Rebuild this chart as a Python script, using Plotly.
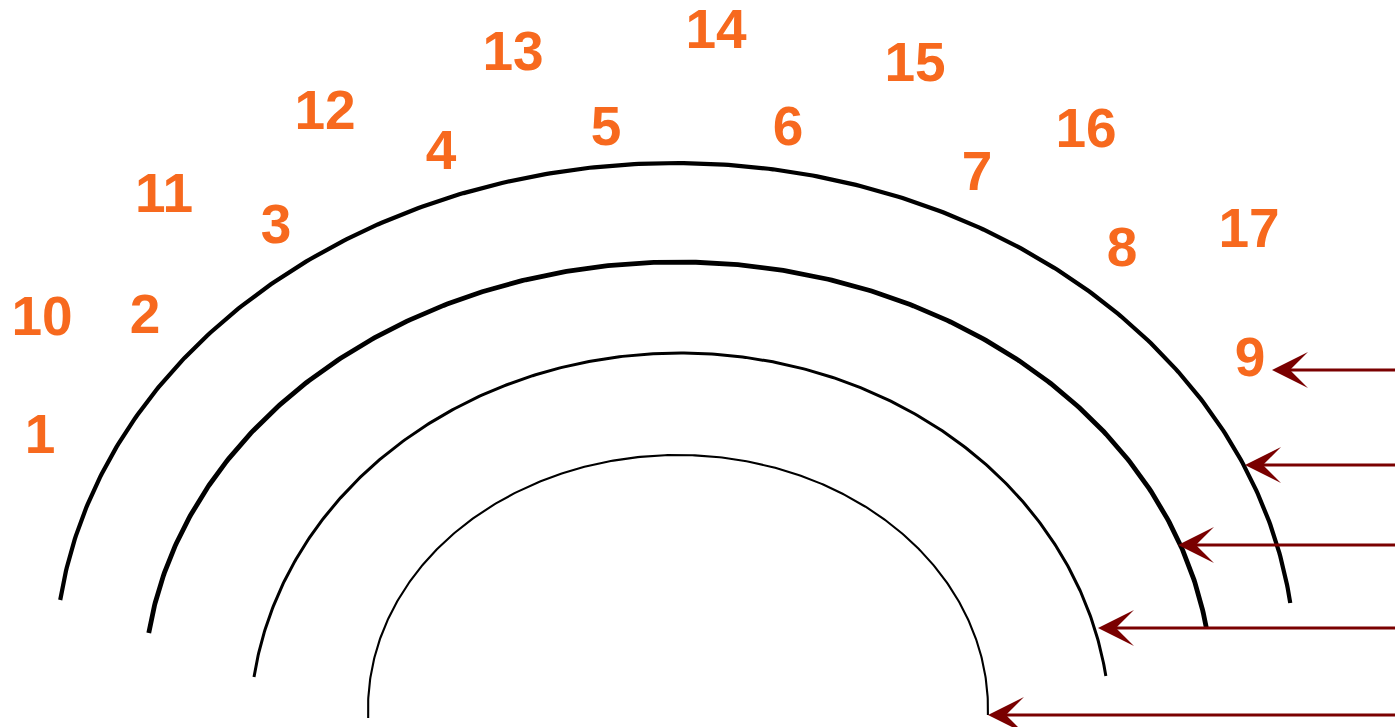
import numpy as np
import plotly.graph_objects as go

# ---- data ----
labels = [str(i) for i in range(1, 18)]
label_x = [40, 145, 276, 441, 606, 788, 977, 1122, 1250,
           42, 164, 325, 513, 716, 915, 1086, 1249]
label_y = [434, 314, 224, 150, 126, 126, 171, 247, 357,
           316, 193, 110, 51, 29, 62, 128, 228]

# arcs: centre x, semi-axis x, centre y, semi-axis y, left end y, right end y
arc_cx = [675, 678, 680, 678]
arc_a = [620, 534, 430, 310]
arc_cy = [665, 690, 728, 709]
arc_b = [502, 428, 375, 254]
arc_end_l = [600, 633, 677, 718]
arc_end_r = [603, 628, 676, 715]
arc_width = [4.2, 4.8, 3.0, 2.1]

# arrows: tip x, y
arrow_tip_x = [1272, 1245, 1178, 1098, 988]
arrow_y = [370, 465, 545, 628, 715]

W, H = 1395, 727
FONT_SIZE = 55
TEXT_SHIFT = 0.1 * FONT_SIZE  # glyph centre sits above text-box centre
ORANGE = "#F7691E"
DARKRED = "#7A0000"

fig = go.Figure()

for cx, a, cy, b, yl, yr, w in zip(arc_cx, arc_a, arc_cy, arc_b, arc_end_l, arc_end_r, arc_width):
    t0 = np.arcsin((cy - yl) / b)
    t1 = np.pi - np.arcsin((cy - yr) / b)
    t = np.linspace(t0, t1, 400)
    x = cx - a * np.cos(t)
    y = cy - b * np.sin(t)
    fig.add_trace(go.Scatter(x=x, y=y, mode="lines",
                             line=dict(color="black", width=w),
                             hoverinfo="skip", showlegend=False))

fig.add_trace(go.Scatter(x=label_x, y=[v + TEXT_SHIFT for v in label_y],
                         mode="text", text=labels,
                         textposition="middle center",
                         textfont=dict(family="Liberation Sans", size=FONT_SIZE,
                                       color=ORANGE, weight="bold"),
                         hoverinfo="skip", showlegend=False, cliponaxis=False))

for tx, ty in zip(arrow_tip_x, arrow_y):
    fig.add_annotation(x=tx, y=ty, ax=W + 5, ay=ty, xref="x", yref="y",
                       axref="x", ayref="y", text="", showarrow=True,
                       arrowhead=3, arrowsize=2.0, arrowwidth=3,
                       arrowcolor=DARKRED, standoff=0)

fig.update_layout(
    width=W, height=H,
    margin=dict(l=0, r=0, t=0, b=0),
    paper_bgcolor="white", plot_bgcolor="white",
    hovermode=False,
    xaxis=dict(range=[0, W], visible=False, fixedrange=True),
    yaxis=dict(range=[H, 0], visible=False, fixedrange=True),
)

fig.write_html(
    "out.html",
    config={"displayModeBar": False, "staticPlot": True},
    post_script="document.body.style.margin='0';document.body.style.overflow='hidden';",
)
